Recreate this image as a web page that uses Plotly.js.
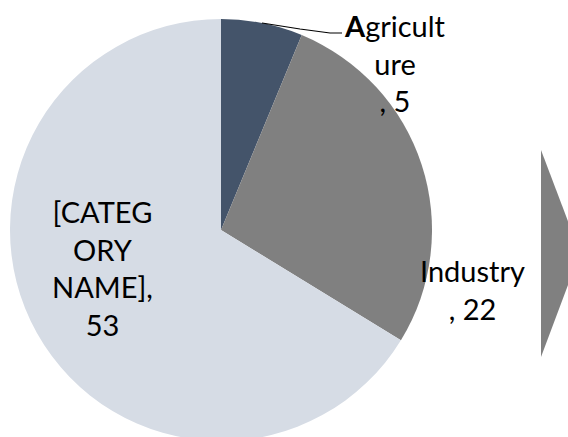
<!DOCTYPE html>
<html>
<head>
<meta charset="utf-8">
<script src="https://cdn.plot.ly/plotly-3.0.1.min.js"></script>
<style>
  html, body { margin: 0; padding: 0; overflow: hidden; background: #ffffff; }
  #chart { width: 568px; height: 441px; }
</style>
</head>
<body>
<div id="chart"></div>
<script>
var W = 568, H = 441;

// data
var labels = ["Agriculture", "Industry", "[CATEGORY NAME]"];
var values = [5, 22, 53];
var labelLines = [["<b>A</b>gricult", "ure"], ["Industry"], ["[CATEG", "ORY", "NAME],"]];
var colors = ["#44546A", "#808080", "#D6DCE5"];

// label centers in pixels
var labelPos = [[395, 63], [473, 289], [102, 268]];

function px(x) { return x / W; }
function py(y) { return 1 - y / H; }

var annotations = labels.map(function (name, i) {
    var lines = labelLines[i].slice();
    if (i === 2) {
        lines.push(String(values[i]));
    } else {
        lines.push(", " + values[i]);
    }
    return {
        xref: "paper", yref: "paper",
        x: px(labelPos[i][0]), y: py(labelPos[i][1]),
        xanchor: "center", yanchor: "middle",
        text: lines.join("<br>"),
        showarrow: false,
        align: "center",
        font: { family: "Lato, 'Open Sans', sans-serif", size: 29, color: "#000000" }
    };
});

var leader = "M " + px(262) + "," + py(23) +
    " L " + px(300) + "," + py(29) +
    " L " + px(330) + "," + py(33) +
    " L " + px(342) + "," + py(33);

var arrow = "M " + px(541) + "," + py(150) +
    " L " + px(580) + "," + py(253) +
    " L " + px(541) + "," + py(357) + " Z";

var data = [{
    type: "pie",
    labels: labels,
    values: values,
    sort: false,
    direction: "clockwise",
    rotation: 0,
    textinfo: "none",
    hoverinfo: "label+value",
    marker: { colors: colors, line: { width: 0 } },
    domain: { x: [px(10), px(432)], y: [0, py(19)] },
    showlegend: false
}];

var layout = {
    width: W,
    height: H,
    margin: { l: 0, r: 0, t: 0, b: 0 },
    paper_bgcolor: "#ffffff",
    showlegend: false,
    annotations: annotations,
    shapes: [
        { type: "path", xref: "paper", yref: "paper", path: arrow,
          fillcolor: "#808080", line: { width: 0 } },
        { type: "path", xref: "paper", yref: "paper", path: leader,
          line: { color: "#000000", width: 1.2 } }
    ]
};

Plotly.newPlot("chart", data, layout, { displayModeBar: false, staticPlot: true });
</script>
</body>
</html>
